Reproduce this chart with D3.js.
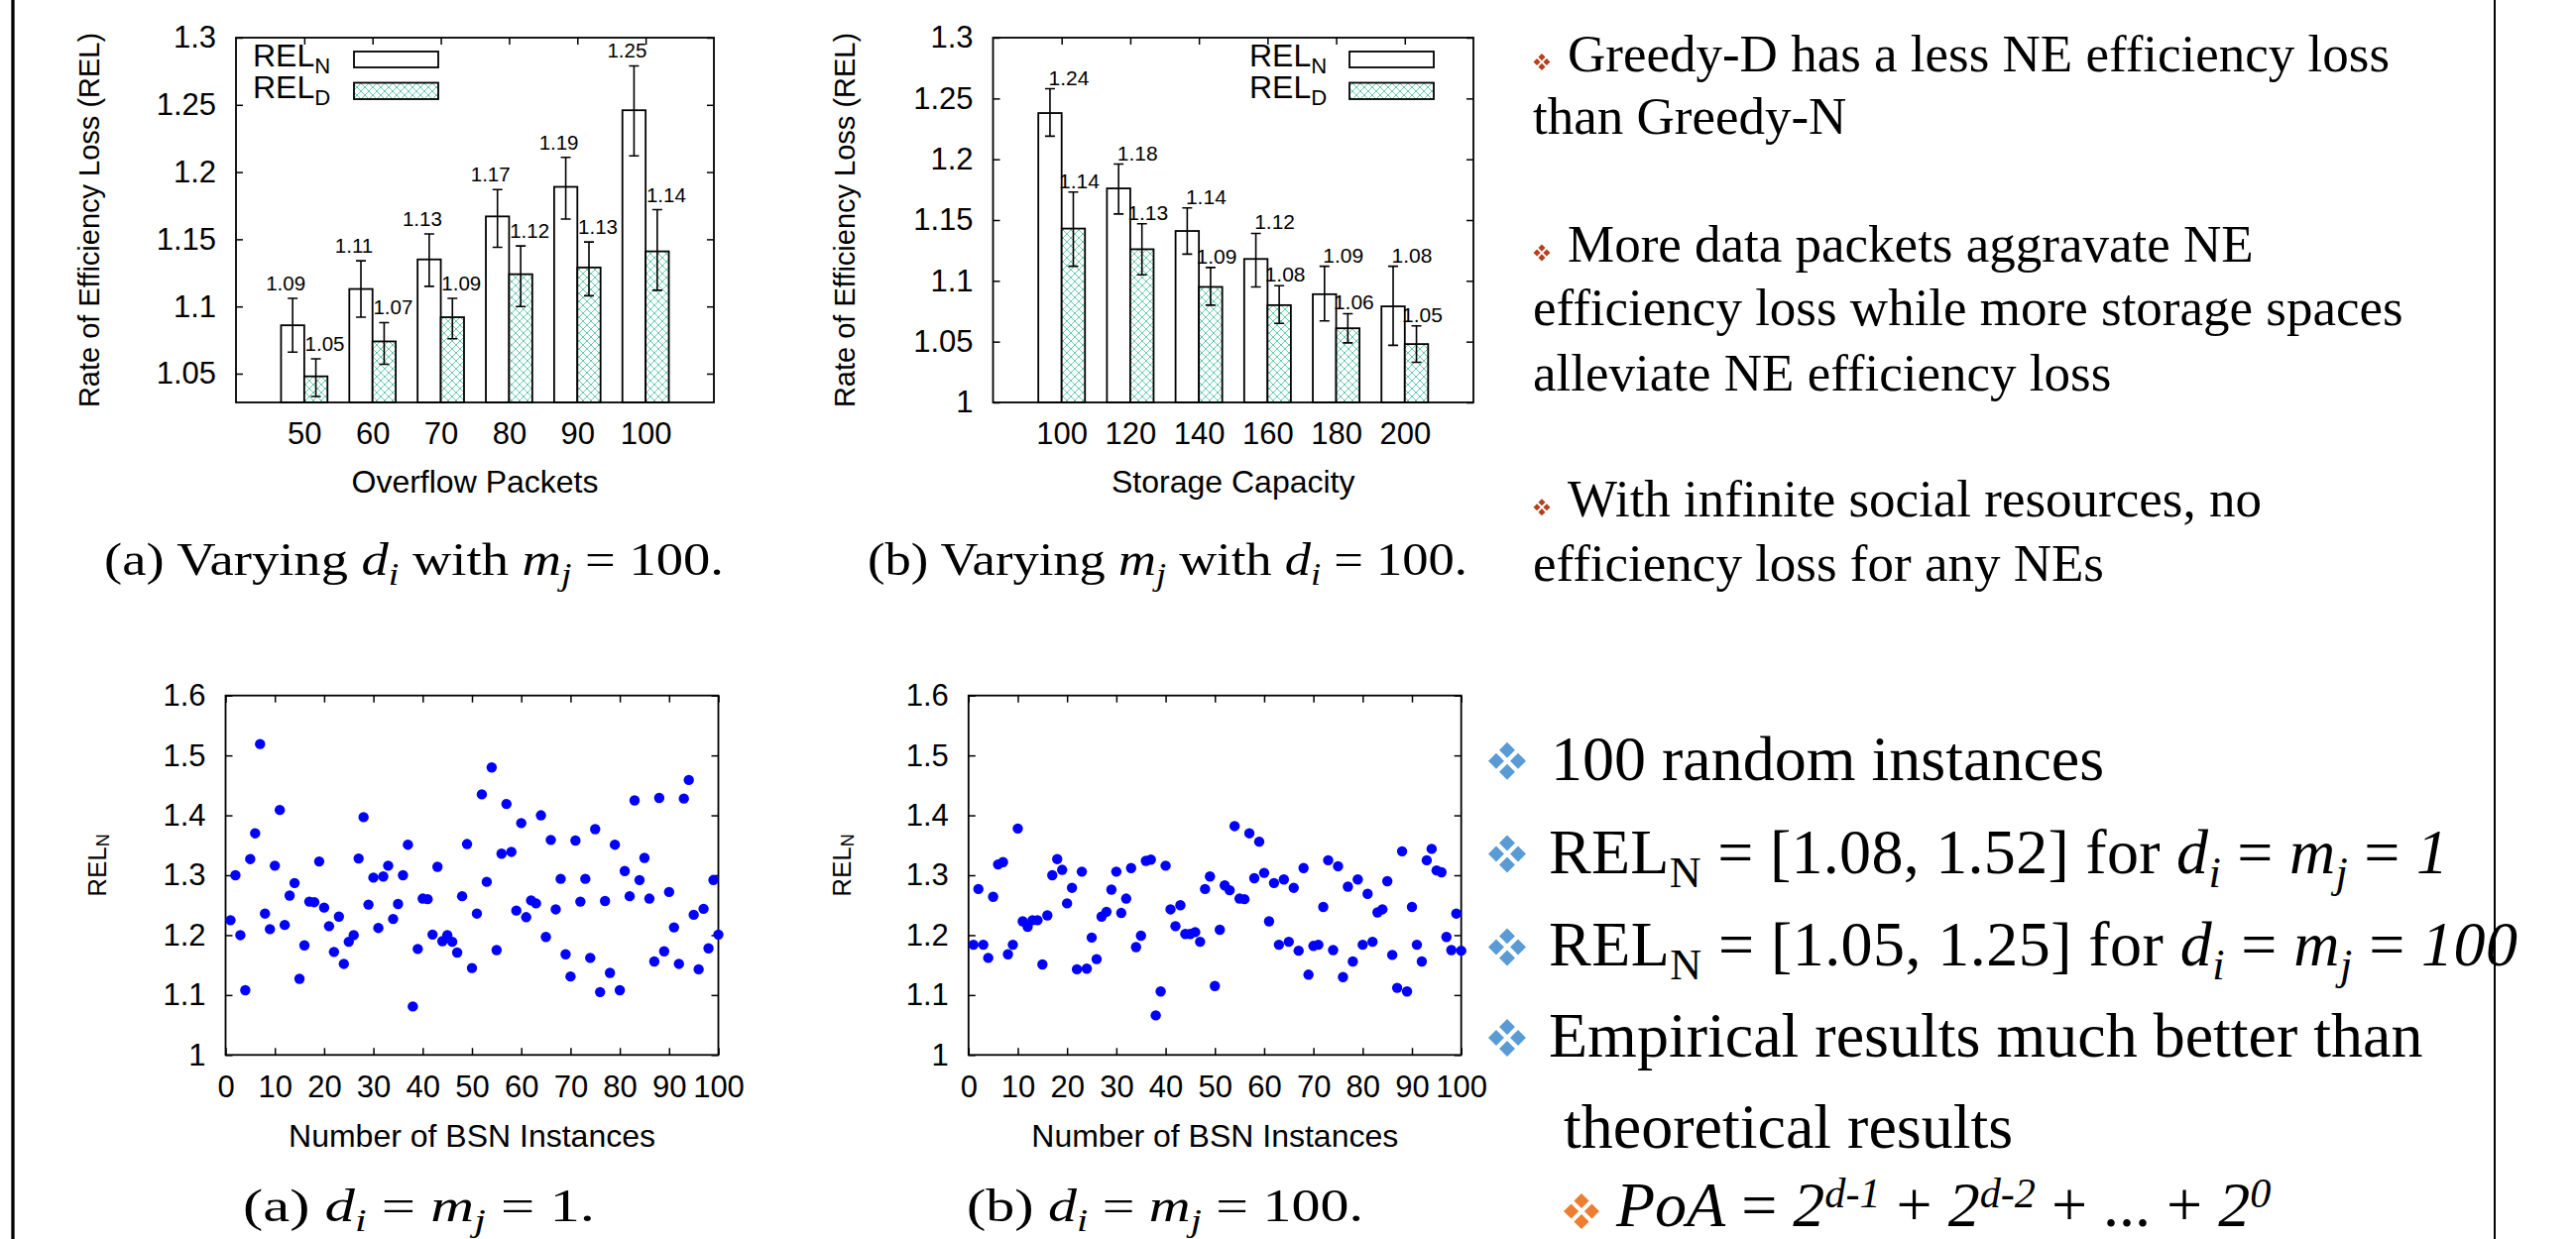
<!DOCTYPE html>
<html>
<head>
<meta charset="utf-8">
<script src="https://cdn.jsdelivr.net/npm/d3@7"></script>
<style>
  body { margin: 0; background: #fff; }
  text { white-space: pre; }
</style>
</head>
<body>
<script>
// ---- data: top bar charts ----
const packets = [50, 60, 70, 80, 90, 100]
const relNPackets = [1.086, 1.113, 1.135, 1.167, 1.189, 1.246]
const relNPacketsLo = [1.066, 1.092, 1.115, 1.144, 1.165, 1.212]
const relNPacketsHi = [1.106, 1.134, 1.154, 1.187, 1.211, 1.279]
const relDPackets = [1.048, 1.074, 1.092, 1.124, 1.129, 1.141]
const relDPacketsLo = [1.033, 1.057, 1.076, 1.100, 1.108, 1.112]
const relDPacketsHi = [1.061, 1.088, 1.106, 1.145, 1.148, 1.172]
const labelsNPackets = ['1.09', '1.11', '1.13', '1.17', '1.19', '1.25']
const labelsDPackets = ['1.05', '1.07', '1.09', '1.12', '1.13', '1.14']
const yTicksPackets = ['1.05', '1.1', '1.15', '1.2', '1.25', '1.3']

const capacity = [100, 120, 140, 160, 180, 200]
const relNCapacity = [1.238, 1.176, 1.141, 1.118, 1.089, 1.079]
const relNCapacityLo = [1.219, 1.155, 1.122, 1.095, 1.067, 1.047]
const relNCapacityHi = [1.258, 1.196, 1.160, 1.139, 1.112, 1.112]
const relDCapacity = [1.143, 1.126, 1.095, 1.080, 1.061, 1.048]
const relDCapacityLo = [1.112, 1.105, 1.080, 1.065, 1.049, 1.033]
const relDCapacityHi = [1.173, 1.147, 1.111, 1.096, 1.073, 1.063]
const labelsNCapacity = ['1.24', '1.18', '1.14', '1.12', '1.09', '1.08']
const labelsDCapacity = ['1.14', '1.13', '1.09', '1.08', '1.06', '1.05']
const yTicksCapacity = ['1', '1.05', '1.1', '1.15', '1.2', '1.25', '1.3']

// ---- data: bottom scatter plots (instance 1..100) ----
const relNOne = [
  1.225, 1.300, 1.200, 1.108, 1.327, 1.370, 1.519, 1.236, 1.210, 1.316,
  1.409, 1.217, 1.266, 1.287, 1.127, 1.183, 1.256, 1.255, 1.323, 1.246,
  1.215, 1.172, 1.231, 1.152, 1.189, 1.200, 1.328, 1.397, 1.251, 1.296,
  1.212, 1.298, 1.316, 1.227, 1.252, 1.300, 1.351, 1.081, 1.177, 1.261,
  1.260, 1.201, 1.314, 1.190, 1.200, 1.189, 1.171, 1.265, 1.352, 1.145,
  1.236, 1.435, 1.289, 1.480, 1.175, 1.336, 1.419, 1.339, 1.241, 1.387,
  1.230, 1.258, 1.253, 1.400, 1.197, 1.359, 1.243, 1.294, 1.168, 1.131,
  1.358, 1.256, 1.294, 1.162, 1.377, 1.105, 1.257, 1.137, 1.351, 1.108,
  1.307, 1.265, 1.425, 1.292, 1.329, 1.261, 1.156, 1.429, 1.173, 1.272,
  1.213, 1.152, 1.428, 1.459, 1.234, 1.143, 1.244, 1.178, 1.292, 1.201
]
const relNHundred = [
  1.184, 1.277, 1.184, 1.162, 1.264, 1.318, 1.322, 1.168, 1.184, 1.378,
  1.223, 1.214, 1.225, 1.225, 1.151, 1.233, 1.300, 1.327, 1.309, 1.253,
  1.279, 1.143, 1.306, 1.144, 1.196, 1.160, 1.231, 1.239, 1.276, 1.306,
  1.237, 1.261, 1.312, 1.180, 1.199, 1.324, 1.326, 1.066, 1.106, 1.316,
  1.243, 1.215, 1.250, 1.202, 1.202, 1.205, 1.189, 1.277, 1.298, 1.115,
  1.209, 1.283, 1.275, 1.382, 1.261, 1.260, 1.370, 1.295, 1.356, 1.304,
  1.223, 1.287, 1.184, 1.293, 1.189, 1.279, 1.174, 1.312, 1.134, 1.182,
  1.184, 1.247, 1.325, 1.175, 1.315, 1.130, 1.281, 1.156, 1.293, 1.184,
  1.269, 1.189, 1.238, 1.243, 1.290, 1.167, 1.112, 1.340, 1.106, 1.247,
  1.184, 1.156, 1.325, 1.344, 1.308, 1.305, 1.197, 1.175, 1.236, 1.174
]
const xTicksScatter = [0, 10, 20, 30, 40, 50, 60, 70, 80, 90, 100]
const yTicksScatter = ['1', '1.1', '1.2', '1.3', '1.4', '1.5', '1.6']

const SANS = 'Liberation Sans, Arial, Helvetica, sans-serif'
const SERIF = 'Liberation Serif, Times New Roman, serif'

const svg = d3.select('body').append('svg')
  .attr('width', 2598)
  .attr('height', 1250)

const defs = svg.append('defs')
const pat = defs.append('pattern')
  .attr('id', 'hatch')
  .attr('patternUnits', 'userSpaceOnUse')
  .attr('width', 8)
  .attr('height', 8)
pat.append('rect').attr('width', 8).attr('height', 8).attr('fill', '#fff')
pat.append('path')
  .attr('d', 'M0,0L8,8M8,0L0,8')
  .attr('stroke', '#55c4a3')
  .attr('stroke-width', 0.9)

// text with sub/superscripts and italics
function rich(parent, x, y, size, family, parts) {
  const t = parent.append('text')
    .attr('x', x)
    .attr('y', y)
    .attr('font-family', family)
    .attr('font-size', size)
    .attr('fill', '#000')
  let off = 0
  parts.forEach(p => {
    const str = p[0], f = p[1] || ''
    let target = 0, fs = size
    if (f.includes('sub')) { target = size * 0.22; fs = size * 0.69 }
    if (f.includes('sup')) { target = -size * 0.3; fs = size * 0.66 }
    t.append('tspan')
      .attr('dy', target - off)
      .attr('font-size', fs)
      .attr('font-style', f.includes('it') ? 'italic' : null)
      .text(str)
    off = target
  })
  return t
}

function styleAxis(g, size) {
  g.select('.domain').remove()
  g.selectAll('.tick line').attr('stroke', '#000').attr('stroke-width', 1.5)
  g.selectAll('.tick text').attr('fill', '#000')
  g.attr('font-family', SANS).attr('font-size', size)
}

function barChart(o) {
  const g = svg.append('g')
  const idx = d3.range(o.cats.length)
  const x = d3.scaleLinear().domain([-1, 6]).range([o.left, o.right])
  const y = d3.scaleLinear().domain(o.yDomain).range([o.bottom, o.top])
  const bw = (x(1) - x(0)) * 0.34
  const yVals = o.yTicks.map(Number)

  g.append('g').attr('transform', `translate(${o.left},0)`)
    .call(d3.axisLeft(y).tickValues(yVals).tickFormat((d, i) => o.yTicks[i]).tickSize(-7).tickPadding(20))
    .call(a => styleAxis(a, 31))
  g.append('g').attr('transform', `translate(${o.right},0)`)
    .call(d3.axisRight(y).tickValues(yVals).tickFormat('').tickSize(-7))
    .call(a => styleAxis(a, 31))
  g.append('g').attr('transform', `translate(0,${o.top})`)
    .call(d3.axisTop(x).tickValues(idx).tickFormat('').tickSize(-7))
    .call(a => styleAxis(a, 31))
  g.append('g').attr('transform', `translate(0,${o.bottom})`)
    .call(d3.axisBottom(x).tickValues(idx).tickFormat(i => o.cats[i]).tickSize(-7).tickPadding(20))
    .call(a => styleAxis(a, 31))

  g.selectAll('.barN').data(o.n).enter().append('rect')
    .attr('x', (d, i) => x(i) - bw)
    .attr('y', d => y(d))
    .attr('width', bw)
    .attr('height', d => y(o.yDomain[0]) - y(d))
    .attr('fill', '#fff')
    .attr('stroke', '#000')
    .attr('stroke-width', 1.8)
  g.selectAll('.barD').data(o.d).enter().append('rect')
    .attr('x', (d, i) => x(i))
    .attr('y', d => y(d))
    .attr('width', bw)
    .attr('height', d => y(o.yDomain[0]) - y(d))
    .attr('fill', 'url(#hatch)')
    .attr('stroke', '#000')
    .attr('stroke-width', 1.8)

  g.append('rect')
    .attr('x', o.left).attr('y', o.top)
    .attr('width', o.right - o.left).attr('height', o.bottom - o.top)
    .attr('fill', 'none').attr('stroke', '#000').attr('stroke-width', 1.8)

  const series = [
    { lo: o.nLo, hi: o.nHi, lab: o.nLab, shift: -bw / 2, off: o.nOff },
    { lo: o.dLo, hi: o.dHi, lab: o.dLab, shift: bw / 2, off: o.dOff }
  ]
  series.forEach(s => {
    idx.forEach(i => {
      const cx = x(i) + s.shift
      const path = `M${cx},${y(s.lo[i])}V${y(s.hi[i])}` +
        `M${cx - 5},${y(s.lo[i])}H${cx + 5}M${cx - 5},${y(s.hi[i])}H${cx + 5}`
      g.append('path').attr('d', path).attr('stroke', '#000').attr('stroke-width', 1.6).attr('fill', 'none')
      g.append('text')
        .attr('x', cx + s.off)
        .attr('y', y(s.hi[i]) - o.labGap)
        .attr('text-anchor', 'middle')
        .attr('font-family', SANS)
        .attr('font-size', o.labSize)
        .attr('fill', '#000')
        .text(s.lab[i])
    })
  })

  // legend
  rich(g, o.legX, o.top + 29, 32, SANS, [['REL'], ['N', 'sub']])
  rich(g, o.legX, o.top + 61, 32, SANS, [['REL'], ['D', 'sub']])
  g.append('rect').attr('x', o.boxX).attr('y', o.top + 14).attr('width', 85).attr('height', 16)
    .attr('fill', '#fff').attr('stroke', '#000').attr('stroke-width', 1.8)
  g.append('rect').attr('x', o.boxX).attr('y', o.top + 45.5).attr('width', 85).attr('height', 16.5)
    .attr('fill', 'url(#hatch)').attr('stroke', '#000').attr('stroke-width', 1.8)

  g.append('text')
    .attr('transform', `translate(${o.yLabX},${(o.top + o.bottom) / 2}) rotate(-90)`)
    .attr('text-anchor', 'middle')
    .attr('dominant-baseline', 'central')
    .attr('font-family', SANS)
    .attr('font-size', 29)
    .text('Rate of Efficiency Loss (REL)')
  g.append('text')
    .attr('x', (o.left + o.right) / 2)
    .attr('y', 497)
    .attr('text-anchor', 'middle')
    .attr('font-family', SANS)
    .attr('font-size', 32)
    .text(o.xLabel)
}

barChart({
  left: 238, right: 720, top: 38, bottom: 406, yDomain: [1.0286, 1.3], yTicks: yTicksPackets,
  cats: packets, n: relNPackets, nLo: relNPacketsLo, nHi: relNPacketsHi,
  d: relDPackets, dLo: relDPacketsLo, dHi: relDPacketsHi,
  nLab: labelsNPackets, dLab: labelsDPackets, nOff: -7, dOff: 9, labGap: 8, labSize: 20.5,
  legX: 255, boxX: 357, yLabX: 90, xLabel: 'Overflow Packets'
})

barChart({
  left: 1001.5, right: 1486, top: 38, bottom: 406, yDomain: [1, 1.3], yTicks: yTicksCapacity,
  cats: capacity, n: relNCapacity, nLo: relNCapacityLo, nHi: relNCapacityHi,
  d: relDCapacity, dLo: relDCapacityLo, dHi: relDCapacityHi,
  nLab: labelsNCapacity, dLab: labelsDCapacity, nOff: 19, dOff: 6, labGap: 4, labSize: 21,
  legX: 1260, boxX: 1361, yLabX: 851.5, xLabel: 'Storage Capacity'
})

function scatter(o) {
  const g = svg.append('g')
  const x = d3.scaleLinear().domain([0, 100]).range([o.left, o.right])
  const y = d3.scaleLinear().domain([1, 1.6]).range([o.bottom, o.top])
  const yVals = yTicksScatter.map(Number)

  g.append('g').attr('transform', `translate(${o.left},0)`)
    .call(d3.axisLeft(y).tickValues(yVals).tickFormat((d, i) => yTicksScatter[i]).tickSize(-7).tickPadding(20))
    .call(a => styleAxis(a, 31))
  g.append('g').attr('transform', `translate(${o.right},0)`)
    .call(d3.axisRight(y).tickValues(yVals).tickFormat('').tickSize(-7))
    .call(a => styleAxis(a, 31))
  g.append('g').attr('transform', `translate(0,${o.top})`)
    .call(d3.axisTop(x).tickValues(xTicksScatter).tickFormat('').tickSize(-7))
    .call(a => styleAxis(a, 31))
  g.append('g').attr('transform', `translate(0,${o.bottom})`)
    .call(d3.axisBottom(x).tickValues(xTicksScatter).tickFormat(d3.format('d')).tickSize(-7).tickPadding(21))
    .call(a => styleAxis(a, 31))

  g.append('rect')
    .attr('x', o.left).attr('y', o.top)
    .attr('width', o.right - o.left).attr('height', o.bottom - o.top)
    .attr('fill', 'none').attr('stroke', '#000').attr('stroke-width', 1.8)

  g.selectAll('circle').data(o.values).enter().append('circle')
    .attr('cx', (d, i) => x(i + 1))
    .attr('cy', d => y(d))
    .attr('r', 5.2)
    .attr('fill', '#0000ff')

  const yl = g.append('g').attr('transform', `translate(${o.yLabX},873) rotate(-90)`)
  rich(yl, 0, 0, 26, SANS, [['REL'], ['N', 'sub']])
    .attr('text-anchor', 'middle')
    .attr('dominant-baseline', 'central')
  g.append('text')
    .attr('x', (o.left + o.right) / 2)
    .attr('y', 1157)
    .attr('text-anchor', 'middle')
    .attr('font-family', SANS)
    .attr('font-size', 32)
    .text('Number of BSN Instances')
}

scatter({ left: 227.5, right: 724.5, top: 701.7, bottom: 1064.3, values: relNOne, yLabX: 98 })
scatter({ left: 976.8, right: 1473.7, top: 701.7, bottom: 1064.3, values: relNHundred, yLabX: 849 })

// captions
const caps = [
  { x: 105, y: 580, len: 625, parts: [['(a) Varying '], ['d', 'it'], ['i', 'it sub'], [' with '], ['m', 'it'], ['j', 'it sub'], [' = 100.']] },
  { x: 875, y: 580, len: 605, parts: [['(b) Varying '], ['m', 'it'], ['j', 'it sub'], [' with '], ['d', 'it'], ['i', 'it sub'], [' = 100.']] },
  { x: 245, y: 1232, len: 355, parts: [['(a) '], ['d', 'it'], ['i', 'it sub'], [' = '], ['m', 'it'], ['j', 'it sub'], [' = 1.']] },
  { x: 975, y: 1232, len: 400, parts: [['(b) '], ['d', 'it'], ['i', 'it sub'], [' = '], ['m', 'it'], ['j', 'it sub'], [' = 100.']] }
]
caps.forEach(c => {
  rich(svg, c.x, c.y, 46, SERIF, c.parts)
    .attr('textLength', c.len)
    .attr('lengthAdjust', 'spacingAndGlyphs')
})

// bullet: four small diamonds
function bullet(cx, cy, s, color) {
  const o = s * 0.29, h = s * 0.21
  const pts = [[0, -o], [-o, 0], [o, 0], [0, o]]
  const d = pts.map(([dx, dy]) => {
    const px = cx + dx, py = cy + dy
    return `M${px},${py - h}L${px + h},${py}L${px},${py + h}L${px - h},${py}Z`
  }).join('')
  svg.append('path').attr('d', d).attr('fill', color)
}

// top right notes
const notes = [
  { b: true, x: 1581, y: 71.5, t: 'Greedy-D has a less NE efficiency loss' },
  { x: 1546, y: 135, t: 'than Greedy-N' },
  { b: true, x: 1581, y: 264, t: 'More data packets aggravate NE' },
  { x: 1546, y: 328, t: 'efficiency loss while more storage spaces' },
  { x: 1546, y: 393.5, t: 'alleviate NE efficiency loss' },
  { b: true, x: 1581, y: 520.7, t: 'With infinite social resources, no' },
  { x: 1546, y: 586, t: 'efficiency loss for any NEs' }
]
notes.forEach(n => {
  if (n.b) bullet(1555, n.y - 9, 17, '#b5401e')
  svg.append('text')
    .attr('x', n.x).attr('y', n.y)
    .attr('font-family', SERIF)
    .attr('font-size', 53)
    .text(n.t)
})

// bottom right notes
const points = [
  { y: 786.7, x: 1564, parts: [['100 random instances']] },
  { y: 880.5, x: 1562, len: 907, parts: [['REL'], ['N', 'sub'], [' = [1.08, 1.52] for '], ['d', 'it'], ['i', 'it sub'], [' = '], ['m', 'it'], ['j', 'it sub'], [' = '], ['1', 'it']] },
  { y: 974.4, x: 1562, len: 977, parts: [['REL'], ['N', 'sub'], [' = [1.05, 1.25] for '], ['d', 'it'], ['i', 'it sub'], [' = '], ['m', 'it'], ['j', 'it sub'], [' = '], ['100', 'it']] },
  { y: 1066, x: 1562, parts: [['Empirical results much better than']] }
]
points.forEach(p => {
  bullet(1520, p.y - 19, 38, '#5b9bd5')
  const t = rich(svg, p.x, p.y, 64, SERIF, p.parts)
  if (p.len) t.attr('textLength', p.len).attr('lengthAdjust', 'spacing')
})
rich(svg, 1577, 1158, 64, SERIF, [['theoretical results']])
bullet(1595, 1222, 36, '#ed7d31')
rich(svg, 1630, 1237, 64, SERIF, [
  ['PoA', 'it'], [' = '], ['2', 'it'], ['d-1', 'it sup'], [' + '], ['2', 'it'], ['d-2', 'it sup'],
  [' + ... + '], ['2', 'it'], ['0', 'it sup']
])

// slide frame lines
svg.append('line').attr('x1', 13).attr('x2', 13).attr('y1', 0).attr('y2', 1250)
  .attr('stroke', '#000').attr('stroke-width', 3.3)
svg.append('line').attr('x1', 2516).attr('x2', 2516).attr('y1', 0).attr('y2', 1250)
  .attr('stroke', '#000').attr('stroke-width', 2)
</script>
</body>
</html>
